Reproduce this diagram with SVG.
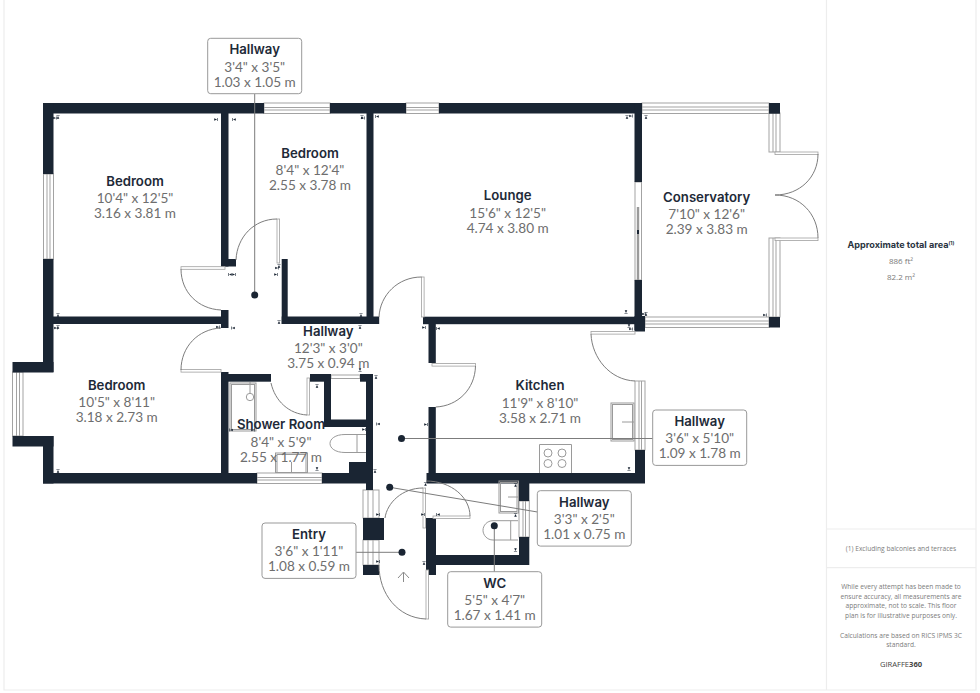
<svg xmlns="http://www.w3.org/2000/svg" width="980" height="693" viewBox="0 0 980 693">
<style>
.w{fill:#1a2533}
.win{fill:#fff;stroke:#a3a3a3;stroke-width:1}
.l{fill:none;stroke:#a3a3a3;stroke-width:1}
.leaf{fill:#fff;stroke:#a0a0a0;stroke-width:.8}
.arc{fill:none;stroke:#7d7d7d;stroke-width:1}
.fx{fill:none;stroke:#9a9a9a;stroke-width:1}
.lead{fill:none;stroke:#7c7c7c;stroke-width:1}
.dot{fill:#1a2533}
.box{fill:#fff;stroke:#999;stroke-width:1}
text{font-family:"Inter","Noto Sans",sans-serif;text-anchor:middle}
.t{font-size:13.2px;font-weight:600;fill:#1e2a38}
.d{font-size:13.6px;fill:#6e6e6e;font-family:"Lato","Noto Sans",sans-serif}
.pa{font-size:9.1px;font-weight:700;fill:#2a3441}
.pb{font-size:8px;fill:#7a7a7a;font-family:"Open Sans",sans-serif}
.pc{font-size:6.65px;fill:#7c7c7c;font-family:"Open Sans",sans-serif}
.pg{font-size:7.6px;fill:#444;font-family:"Open Sans",sans-serif}
.tk{fill:#1a2533}
</style>
<defs>
<path id="tk" d="M0 0L-2.8 -1.3V1.3ZM0 -1.6V1.6H.6V-1.6Z"/>
</defs>
<rect width="980" height="693" fill="#fff"/>
<g id="frame" fill="none" stroke="#ededed" stroke-width="1.2">
<path d="M4 0V690H976V0"/>
<path d="M826.5 0V690M826.5 529H976M826.5 567.7H976"/>
</g>
<g id="windows">
<g class="win">
<rect x="264" y="103" width="66" height="10.5"/>
<rect x="406" y="103" width="33" height="10.5"/>
<rect x="43.5" y="174" width="10" height="85"/>
<rect x="257" y="473" width="65" height="10.5"/>
<rect x="12.5" y="372" width="10.5" height="64"/>
<rect x="642" y="103" width="127" height="10.5"/>
<rect x="645" y="317" width="124" height="10.5"/>
<rect x="769" y="113" width="11" height="39"/>
<rect x="769" y="238" width="11" height="79"/>
<rect x="635" y="381" width="10" height="69"/>
<rect x="519" y="501" width="10.3" height="36"/>
<rect x="363" y="490" width="16" height="28"/>
<rect x="363" y="540" width="16" height="25"/>
<rect x="331" y="375" width="29" height="3.5"/>
<rect x="635" y="182" width="6.5" height="98"/>
</g>
<path class="l" d="M264 107.5H330M264 110H330M406 107.5H439M406 110H439M47 174V259M50 174V259M257 477.5H322M257 480H322M16.5 372V436M19.5 372V436M642 107H769M642 110H769M645 321H769M645 324H769M773 113V152M776 113V152M773 238V317M776 238V317M639 381V450M641.5 381V450M523 501V537M525.5 501V537M368 490V518M373 490V518M368 540V565M373 540V565"/>
<path d="M638 207V280" stroke="#9b9b9b" stroke-width="2.4" fill="none"/>
<rect x="637" y="230" width="2" height="4" fill="#1a2533"/>
</g>
<g id="walls" class="w">
<rect x="43" y="103" width="221" height="10.5"/><rect x="330" y="103" width="76" height="10.5"/><rect x="439" y="103" width="203" height="10.5"/>
<rect x="43" y="103" width="10.5" height="71"/><rect x="43" y="259" width="10.5" height="113"/>
<rect x="12.5" y="362" width="41" height="10.5"/><rect x="12.5" y="436" width="41" height="10.5"/><rect x="43" y="436" width="10.5" height="47.5"/>
<rect x="43" y="473" width="214" height="10.5"/><rect x="322" y="473" width="51" height="10.5"/>
<rect x="221" y="113" width="7.5" height="153.5"/><rect x="221" y="259" width="15" height="7.5"/><rect x="221" y="310" width="7.5" height="18"/><rect x="53" y="316.5" width="175" height="7.5"/>
<rect x="221" y="372" width="7.5" height="101"/><rect x="221" y="374" width="50" height="7.7"/><rect x="310" y="374" width="21" height="7.7"/><rect x="324" y="374" width="7" height="53"/><rect x="324" y="419.5" width="49" height="7.5"/><rect x="360" y="374" width="13" height="7.7"/><rect x="366" y="374" width="7" height="116"/><rect x="349" y="462" width="20" height="11"/>
<rect x="281.7" y="259" width="6" height="65"/><rect x="281.7" y="316.5" width="97.5" height="7.5"/><rect x="366.5" y="113" width="7" height="205"/>
<rect x="423" y="316.7" width="219" height="7.5"/><rect x="634.5" y="103" width="7.5" height="79"/><rect x="634.5" y="280" width="7.5" height="50"/><rect x="634.5" y="316" width="10.5" height="15.5"/>
<rect x="428.5" y="324" width="7.3" height="39"/><rect x="428.5" y="407" width="7.3" height="76"/><rect x="426.5" y="473" width="218.5" height="10.5"/><rect x="635" y="450" width="10" height="33"/>
<rect x="519" y="483" width="10.3" height="18"/><rect x="519" y="537" width="10.3" height="28"/><rect x="427" y="555" width="102" height="10"/><rect x="426" y="518" width="10" height="57"/>
<rect x="363" y="518" width="21" height="22"/><rect x="363" y="565" width="16" height="10"/>
<rect x="769" y="103" width="11" height="10.7"/><rect x="769" y="317" width="11" height="10.5"/>
</g>
<g id="doors">
<g class="leaf">
<rect x="181" y="266.7" width="44" height="2.6"/><rect x="181" y="369.5" width="40" height="2.6"/><rect x="277" y="219" width="2.6" height="44"/><rect x="307" y="378" width="2.6" height="37"/>
<rect x="421.5" y="277" width="2.6" height="40"/><rect x="432" y="363.5" width="43.5" height="2.6"/><rect x="591" y="331.5" width="44" height="2.6"/><rect x="775" y="152" width="43" height="2.6"/><rect x="775" y="238" width="43" height="2.6"/>
<rect x="423" y="488" width="2.6" height="40"/><rect x="433" y="516" width="37" height="2.6"/><rect x="426" y="570" width="2.6" height="49"/>
</g>
<path class="arc" d="M181 269C181 292 198 309 221 310M221 328C198 329 181 347 181 370M236 260C237 237 254 219 277 219M271 383C275 401 289 414 307 415M379 317C380 295 398 277 421.5 277M475.5 366C475 389 458 406 435.8 407M591 334C592 358 610 380 635 381M818 154C818 177 800 195 775 195C800 195 818 214 818 238M470 516C470 498 452 481 426 481M385 518C387 503 402 488 423 488M426 619C398 618 379 594 379 565"/>
</g>
<g id="fixtures">
<rect class="fx" x="230" y="383" width="26" height="48"/><rect class="fx" x="231.5" y="384.5" width="23" height="45"/>
<circle class="fx" cx="250" cy="397" r="3.7"/><path class="fx" d="M250 382V393"/>
<path class="fx" d="M366 434.5H345C335 434.5 330 439 330 443.5C330 448 335 452.5 345 452.5H366M357 434.5V452.5"/>
<rect class="fx" x="275.5" y="453" width="32" height="19.5"/><rect class="fx" x="277" y="454.5" width="29" height="18"/><path class="fx" d="M291.5 462V472"/>
<rect class="fx" x="611" y="403" width="23" height="38"/><rect class="fx" x="612.5" y="404.5" width="20" height="35"/><path class="fx" d="M622 422H634"/>
<path class="fx" d="M539.5 473V444.5H571.5V473"/><circle class="fx" cx="548" cy="453" r="4"/><circle class="fx" cx="562" cy="453" r="4"/><circle class="fx" cx="548" cy="463.5" r="4"/><circle class="fx" cx="562" cy="463.5" r="4"/>
<rect class="fx" x="499" y="481" width="19.5" height="32"/><rect class="fx" x="500.5" y="482.5" width="16.5" height="29"/><path class="fx" d="M508 497H518"/>
<path class="fx" d="M518 520.7H493C487 520.7 483 525.5 483 530.3C483 535 487 540 493 540H518M510.7 520.7V540"/>
<path d="M403.5 582V572.5M398 578L403.5 572L409 578" fill="none" stroke="#8a8a8a" stroke-width="1"/>
</g>
<g id="ticks" class="tk">
<use href="#tk" transform="translate(217 119.5)"/><use href="#tk" transform="translate(233 119.5) rotate(180)"/>
<use href="#tk" transform="translate(58 116) rotate(-90)"/><use href="#tk" transform="translate(56 118)"/>
<use href="#tk" transform="translate(362 116) rotate(-90)"/><use href="#tk" transform="translate(364 118)"/>
<use href="#tk" transform="translate(376 116.5) rotate(180)"/><use href="#tk" transform="translate(627 116) rotate(-90)"/><use href="#tk" transform="translate(632 116)"/>
<use href="#tk" transform="translate(646 116) rotate(-90)"/><use href="#tk" transform="translate(626 313) rotate(90)"/>
<use href="#tk" transform="translate(646 313) rotate(-90)"/><use href="#tk" transform="translate(645 314)"/>
<use href="#tk" transform="translate(629 327) rotate(90)"/><use href="#tk" transform="translate(632 329)"/>
<use href="#tk" transform="translate(766 315)"/>
<use href="#tk" transform="translate(58 314) rotate(-90)"/><use href="#tk" transform="translate(58 326) rotate(-90)"/><use href="#tk" transform="translate(57 328)"/>
<use href="#tk" transform="translate(219 327)"/><use href="#tk" transform="translate(232 328) rotate(180)"/>
<use href="#tk" transform="translate(229 274.5) rotate(180)"/><use href="#tk" transform="translate(235 274.5)"/><use href="#tk" transform="translate(277 274.5)"/>
<use href="#tk" transform="translate(279 265) rotate(-90)"/><use href="#tk" transform="translate(278 268)"/>
<use href="#tk" transform="translate(361 314) rotate(-90)"/><use href="#tk" transform="translate(279 321) rotate(-90)"/><use href="#tk" transform="translate(360 326) rotate(-90)"/>
<use href="#tk" transform="translate(360 371) rotate(90)"/><use href="#tk" transform="translate(376 376) rotate(-90)"/><use href="#tk" transform="translate(317 385) rotate(-90)"/>
<use href="#tk" transform="translate(377 424) rotate(180)"/><use href="#tk" transform="translate(365 429.5)"/><use href="#tk" transform="translate(230 430) rotate(180)"/><use href="#tk" transform="translate(254 430)"/>
<use href="#tk" transform="translate(58 470) rotate(-90)"/><use href="#tk" transform="translate(317 470) rotate(90)"/><use href="#tk" transform="translate(375 470) rotate(-90)"/>
<use href="#tk" transform="translate(425 327.5)"/><use href="#tk" transform="translate(437 328.5) rotate(180)"/><use href="#tk" transform="translate(427 424.5)"/><use href="#tk" transform="translate(629 470) rotate(90)"/>
<use href="#tk" transform="translate(425.5 483) rotate(-90)"/><use href="#tk" transform="translate(515.5 484) rotate(-90)"/><use href="#tk" transform="translate(515.5 514) rotate(-90)"/><use href="#tk" transform="translate(515.5 551) rotate(90)"/>
<use href="#tk" transform="translate(379 514.5)"/><use href="#tk" transform="translate(379 561.5)"/><use href="#tk" transform="translate(424 514.5)"/><use href="#tk" transform="translate(437 514.5) rotate(180)"/><use href="#tk" transform="translate(424 562) rotate(-90)"/>
</g>
<g id="connectors">
<path class="lead" d="M254.7 94V295M401 438.5H653M389.7 487.3L537.5 512M402 552.3H356M494.3 525.7V572"/>
<circle class="dot" cx="254.7" cy="295" r="3.5"/><circle class="dot" cx="401.5" cy="438.5" r="3.5"/><circle class="dot" cx="389.7" cy="487.3" r="3.5"/><circle class="dot" cx="402" cy="552.3" r="3.5"/><circle class="dot" cx="494.3" cy="525.7" r="3.5"/>
</g>
<g id="room-bedroom-1"><text class="t" x="135" y="186">Bedroom</text><text class="d" x="135" y="203">10'4" x 12'5"</text><text class="d" x="135" y="218">3.16 x 3.81 m</text></g>
<g id="room-bedroom-2"><text class="t" x="310" y="158">Bedroom</text><text class="d" x="310" y="175">8'4" x 12'4"</text><text class="d" x="310" y="190">2.55 x 3.78 m</text></g>
<g id="room-lounge"><text class="t" x="507.7" y="200">Lounge</text><text class="d" x="507.7" y="217.5">15'6" x 12'5"</text><text class="d" x="507.7" y="232.5">4.74 x 3.80 m</text></g>
<g id="room-conservatory"><text class="t" x="706.7" y="202">Conservatory</text><text class="d" x="706.7" y="219">7'10" x 12'6"</text><text class="d" x="706.7" y="234">2.39 x 3.83 m</text></g>
<g id="room-hallway-main"><text class="t" x="328.3" y="336">Hallway</text><text class="d" x="328.3" y="353">12'3" x 3'0"</text><text class="d" x="328.3" y="368">3.75 x 0.94 m</text></g>
<g id="room-bedroom-3"><text class="t" x="116.7" y="390">Bedroom</text><text class="d" x="116.7" y="407">10'5" x 8'11"</text><text class="d" x="116.7" y="422">3.18 x 2.73 m</text></g>
<g id="room-shower"><text class="t" x="281" y="429">Shower Room</text><text class="d" x="281" y="446.5">8'4" x 5'9"</text><text class="d" x="281" y="461.5">2.55 x 1.77 m</text></g>
<g id="room-kitchen"><text class="t" x="540" y="390">Kitchen</text><text class="d" x="540" y="407.5">11'9" x 8'10"</text><text class="d" x="540" y="422.5">3.58 x 2.71 m</text></g>
<g id="label-hallway-top"><rect class="box" x="207.7" y="38.3" width="94" height="55.4" rx="3"/><text class="t" x="254.7" y="54">Hallway</text><text class="d" x="254.7" y="71.5">3'4" x 3'5"</text><text class="d" x="254.7" y="86.5">1.03 x 1.05 m</text></g>
<g id="label-hallway-right"><rect class="box" x="652.7" y="410" width="94" height="55.4" rx="3"/><text class="t" x="699.7" y="426">Hallway</text><text class="d" x="699.7" y="443">3'6" x 5'10"</text><text class="d" x="699.7" y="458">1.09 x 1.78 m</text></g>
<g id="label-hallway-lower"><rect class="box" x="537.3" y="490.7" width="94" height="55.4" rx="3"/><text class="t" x="584.3" y="506.5">Hallway</text><text class="d" x="584.3" y="523.5">3'3" x 2'5"</text><text class="d" x="584.3" y="538.5">1.01 x 0.75 m</text></g>
<g id="label-entry"><rect class="box" x="262" y="523" width="94" height="55.4" rx="3"/><text class="t" x="309" y="539">Entry</text><text class="d" x="309" y="556">3'6" x 1'11"</text><text class="d" x="309" y="571">1.08 x 0.59 m</text></g>
<g id="label-wc"><rect class="box" x="447.7" y="571.7" width="94" height="55.4" rx="3"/><text class="t" x="494.7" y="587.5">WC</text><text class="d" x="494.7" y="604.5">5'5" x 4'7"</text><text class="d" x="494.7" y="619.5">1.67 x 1.41 m</text></g>
<g id="panel">
<text class="pa" x="901" y="248">Approximate total area<tspan font-size="5" dy="-3">(1)</tspan></text>
<text class="pb" x="901" y="264">886 ft²</text><text class="pb" x="901" y="280">82.2 m²</text>
<text class="pc" x="901" y="551">(1) Excluding balconies and terraces</text>
<text class="pc" x="901" y="589">While every attempt has been made to</text><text class="pc" x="901" y="598.7">ensure accuracy, all measurements are</text><text class="pc" x="901" y="608.3">approximate, not to scale. This floor</text><text class="pc" x="901" y="618">plan is for illustrative purposes only.</text>
<text class="pc" x="901" y="637.5">Calculations are based on RICS IPMS 3C</text><text class="pc" x="901" y="647">standard.</text>
<text class="pg" x="901" y="667">GIRAFFE<tspan font-weight="700">360</tspan></text>
</g>
</svg>
